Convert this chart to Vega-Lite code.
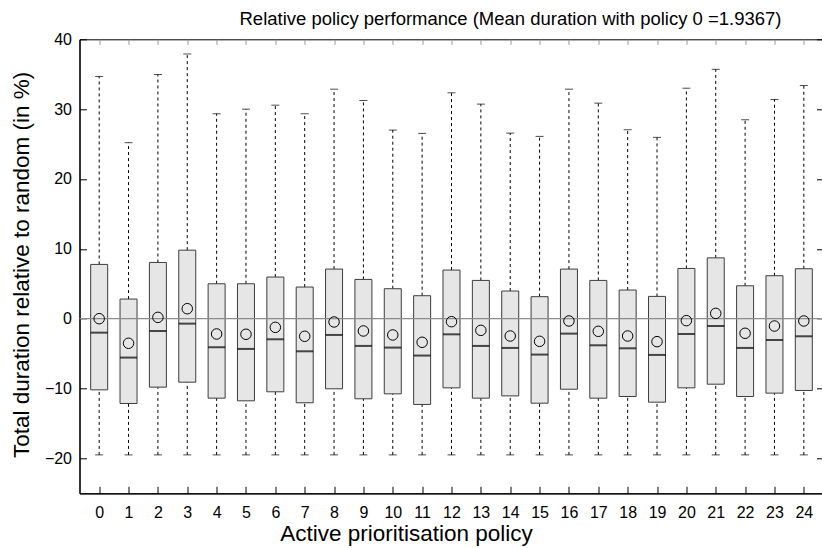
{
  "$schema": "https://vega.github.io/schema/vega-lite/v6.json",
  "width": 744,
  "height": 454,
  "autosize": {"type": "none"},
  "padding": {"left": 79.5, "top": 39.3, "right": 0, "bottom": 55},
  "background": "white",
  "config": {
    "font": "Liberation Sans",
    "view": {"stroke": "#000000", "strokeWidth": 1},
    "axis": {"grid": false, "labelColor": "#000000", "titleColor": "#000000", "tickColor": "#000000", "domainColor": "#000000"}
  },
  "title": {
    "text": "Relative policy performance (Mean duration with policy 0 =1.9367)",
    "fontSize": 18.5,
    "fontWeight": "normal",
    "color": "#000000",
    "anchor": "start",
    "frame": "group",
    "dx": 160,
    "dy": 20,
    "baseline": "alphabetic",
    "offset": 8
  },
  "data": {
    "values": [
      {"policy": 0, "lo": -19.5, "q1": -10.19, "median": -2.0, "q3": 7.77, "hi": 34.67, "mean": 0.0},
      {"policy": 1, "lo": -19.5, "q1": -12.14, "median": -5.57, "q3": 2.81, "hi": 25.2, "mean": -3.52},
      {"policy": 2, "lo": -19.5, "q1": -9.8, "median": -1.76, "q3": 8.05, "hi": 34.96, "mean": 0.19},
      {"policy": 3, "lo": -19.5, "q1": -9.09, "median": -0.71, "q3": 9.81, "hi": 37.9, "mean": 1.43},
      {"policy": 4, "lo": -19.5, "q1": -11.38, "median": -4.09, "q3": 5.0, "hi": 29.34, "mean": -2.19},
      {"policy": 5, "lo": -19.5, "q1": -11.76, "median": -4.33, "q3": 5.0, "hi": 30.0, "mean": -2.23},
      {"policy": 6, "lo": -19.5, "q1": -10.47, "median": -2.95, "q3": 5.96, "hi": 30.57, "mean": -1.24},
      {"policy": 7, "lo": -19.5, "q1": -12.04, "median": -4.67, "q3": 4.53, "hi": 29.34, "mean": -2.52},
      {"policy": 8, "lo": -19.5, "q1": -10.04, "median": -2.33, "q3": 7.1, "hi": 32.86, "mean": -0.47},
      {"policy": 9, "lo": -19.5, "q1": -11.47, "median": -3.9, "q3": 5.62, "hi": 31.24, "mean": -1.76},
      {"policy": 10, "lo": -19.5, "q1": -10.76, "median": -4.14, "q3": 4.29, "hi": 27.0, "mean": -2.33},
      {"policy": 11, "lo": -19.5, "q1": -12.28, "median": -5.28, "q3": 3.29, "hi": 26.53, "mean": -3.38},
      {"policy": 12, "lo": -19.5, "q1": -9.9, "median": -2.24, "q3": 6.96, "hi": 32.34, "mean": -0.43},
      {"policy": 13, "lo": -19.5, "q1": -11.38, "median": -3.9, "q3": 5.48, "hi": 30.72, "mean": -1.67},
      {"policy": 14, "lo": -19.5, "q1": -11.05, "median": -4.19, "q3": 3.96, "hi": 26.57, "mean": -2.48},
      {"policy": 15, "lo": -19.5, "q1": -12.1, "median": -5.14, "q3": 3.15, "hi": 26.1, "mean": -3.24},
      {"policy": 16, "lo": -19.5, "q1": -10.1, "median": -2.14, "q3": 7.1, "hi": 32.86, "mean": -0.33},
      {"policy": 17, "lo": -19.5, "q1": -11.38, "median": -3.81, "q3": 5.48, "hi": 30.86, "mean": -1.81},
      {"policy": 18, "lo": -19.5, "q1": -11.14, "median": -4.24, "q3": 4.1, "hi": 27.05, "mean": -2.48},
      {"policy": 19, "lo": -19.5, "q1": -11.95, "median": -5.19, "q3": 3.19, "hi": 25.96, "mean": -3.29},
      {"policy": 20, "lo": -19.5, "q1": -9.9, "median": -2.19, "q3": 7.19, "hi": 33.0, "mean": -0.28},
      {"policy": 21, "lo": -19.5, "q1": -9.38, "median": -1.05, "q3": 8.71, "hi": 35.7, "mean": 0.76},
      {"policy": 22, "lo": -19.5, "q1": -11.14, "median": -4.19, "q3": 4.71, "hi": 28.48, "mean": -2.09},
      {"policy": 23, "lo": -19.5, "q1": -10.66, "median": -3.05, "q3": 6.15, "hi": 31.38, "mean": -1.05},
      {"policy": 24, "lo": -19.5, "q1": -10.28, "median": -2.52, "q3": 7.15, "hi": 33.38, "mean": -0.33}
    ]
  },
  "resolve": {"axis": {"x": "independent", "y": "independent"}},
  "layer": [
    {
      "mark": {"type": "rule", "color": "#000000", "strokeWidth": 1, "strokeDash": [3, 3]},
      "encoding": {
        "x": {
          "field": "policy", "type": "quantitative",
          "scale": {"domain": [-0.5, 24.5], "nice": false, "zero": false},
          "axis": {
            "orient": "bottom",
            "values": [0, 1, 2, 3, 4, 5, 6, 7, 8, 9, 10, 11, 12, 13, 14, 15, 16, 17, 18, 19, 20, 21, 22, 23, 24],
            "format": "d",
            "tickSize": -7,
            "labelPadding": 18,
            "labelFontSize": 16,
            "labelFlush": false,
            "labelOverlap": false,
            "domainWidth": 1.2,
            "title": "Active prioritisation policy",
            "titleFontSize": 22.5,
            "titleFontWeight": "normal",
            "titleAlign": "center",
            "titleBaseline": "alphabetic",
            "titleX": 326.5,
            "titleY": 47.5
          }
        },
        "y": {
          "field": "q3", "type": "quantitative",
          "scale": {"domain": [-25, 40], "nice": false, "zero": false},
          "axis": {
            "orient": "left",
            "values": [-20, -10, 0, 10, 20, 30, 40],
            "tickSize": -7,
            "labelPadding": 15,
            "labelFontSize": 16,
            "domainWidth": 1.2,
            "title": "Total duration relative to random (in %)",
            "titleFontSize": 22.5,
            "titleFontWeight": "normal",
            "titleAngle": 270,
            "titleAlign": "center",
            "titleBaseline": "alphabetic",
            "titleX": -51,
            "titleY": 225
          }
        },
        "y2": {"field": "hi"}
      }
    },
    {
      "mark": {"type": "rule", "color": "#000000", "strokeWidth": 1, "strokeDash": [3, 3]},
      "encoding": {
        "x": {
          "field": "policy", "type": "quantitative",
          "axis": {
            "orient": "top",
            "values": [0, 1, 2, 3, 4, 5, 6, 7, 8, 9, 10, 11, 12, 13, 14, 15, 16, 17, 18, 19, 20, 21, 22, 23, 24],
            "labels": false,
            "domain": false,
            "tickSize": -5,
            "tickColor": "#9a9a9a",
            "title": null
          }
        },
        "y": {
          "field": "lo", "type": "quantitative",
          "axis": {
            "orient": "right",
            "values": [-20, -10, 0, 10, 20, 30, 40],
            "labels": false,
            "domain": false,
            "tickSize": -7,
            "title": null
          }
        },
        "y2": {"field": "q1"}
      }
    },
    {
      "mark": {"type": "tick", "orient": "horizontal", "color": "#000000", "size": 8, "thickness": 1},
      "encoding": {
        "x": {"field": "policy", "type": "quantitative", "axis": null},
        "y": {"field": "hi", "type": "quantitative", "axis": null}
      }
    },
    {
      "mark": {"type": "tick", "orient": "horizontal", "color": "#000000", "size": 8, "thickness": 1},
      "encoding": {
        "x": {"field": "policy", "type": "quantitative", "axis": null},
        "y": {"field": "lo", "type": "quantitative", "axis": null}
      }
    },
    {
      "mark": {"type": "bar", "size": 17, "fill": "#e6e6e6", "stroke": "#3c3c3c", "strokeWidth": 1},
      "encoding": {
        "x": {"field": "policy", "type": "quantitative", "axis": null},
        "y": {"field": "q1", "type": "quantitative", "axis": null},
        "y2": {"field": "q3"}
      }
    },
    {
      "data": {"values": [{}]},
      "mark": {"type": "rule", "color": "#8c8c8c", "strokeWidth": 1.2},
      "encoding": {
        "y": {"datum": 0, "type": "quantitative", "axis": null}
      }
    },
    {
      "mark": {"type": "tick", "orient": "horizontal", "color": "#000000", "size": 17, "thickness": 2},
      "encoding": {
        "x": {"field": "policy", "type": "quantitative", "axis": null},
        "y": {"field": "median", "type": "quantitative", "axis": null}
      }
    },
    {
      "mark": {"type": "point", "shape": "circle", "filled": false, "size": 110, "stroke": "#000000", "strokeWidth": 1, "opacity": 1},
      "encoding": {
        "x": {"field": "policy", "type": "quantitative", "axis": null},
        "y": {"field": "mean", "type": "quantitative", "axis": null}
      }
    }
  ]
}
